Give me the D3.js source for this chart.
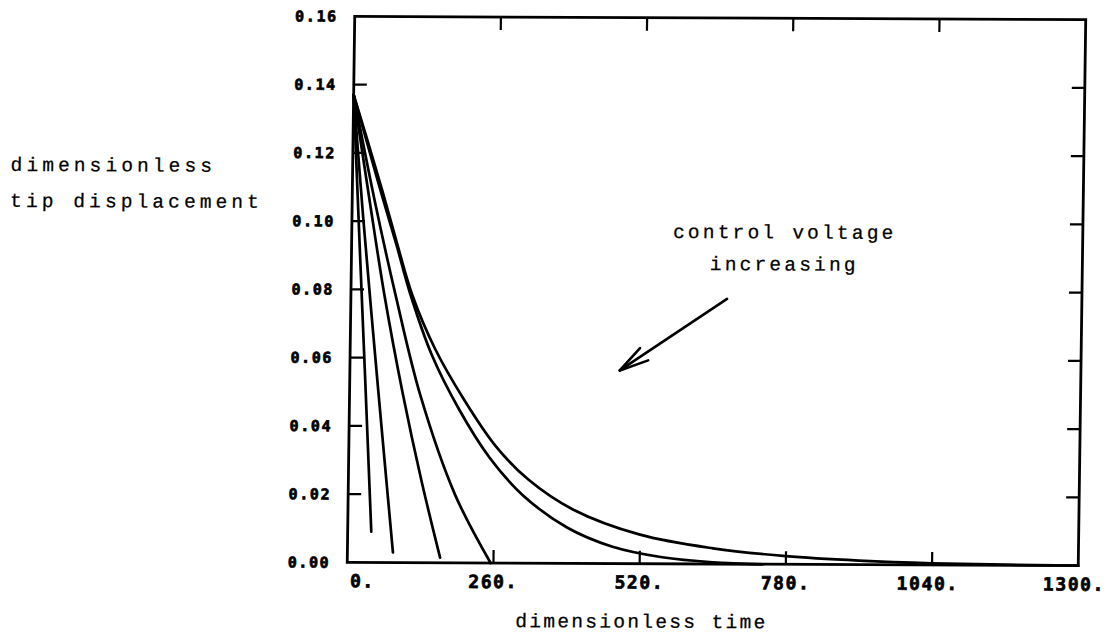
<!DOCTYPE html>
<html>
<head>
<meta charset="utf-8">
<script src="https://cdn.jsdelivr.net/npm/d3@7/dist/d3.min.js"></script>
<style>
  html, body { margin: 0; padding: 0; background: #fff; }
  svg { display: block; }
  .tick-y { font-family: "DejaVu Sans Mono", "Liberation Mono", monospace; font-weight: bold; font-size: 15px; letter-spacing: 1.6px; stroke: #000; stroke-width: 0.7px; }
  .tick-x { font-family: "DejaVu Sans Mono", "Liberation Mono", monospace; font-weight: bold; font-size: 18px; letter-spacing: 1.6px; stroke: #000; stroke-width: 0.7px; }
  .type { font-family: "Liberation Mono", "DejaVu Sans Mono", monospace; font-size: 19.5px; stroke: #000; stroke-width: 0.25px; }
</style>
</head>
<body>
<svg id="chart" width="1113" height="633"></svg>
<script>
// Tip displacement decay curves, one per control voltage (time, displacement)
const curveA = [[0,0.137],[14,0.094],[28,0.052],[42,0.009]];
const curveB = [[0,0.137],[20,0.101],[40,0.068],[60,0.036],[81,0.003]];
const curveC = [[0,0.137],[30,0.107],[60,0.078],[94,0.050],[130,0.024],[165,0.0015]];
const curveD = [[0,0.137],[40,0.106],[80,0.078],[126,0.049],[190,0.020],[255,0]];
const curveE = [[0,0.137],[25,0.123],[52,0.108],[80,0.093],[105,0.079],[145,0.061],[195,0.045],[250,0.031],[310,0.020],[390,0.0105],[470,0.0050],[560,0.0019],[650,0.0005],[740,0]];
const curveF = [[0,0.137],[25,0.124],[55,0.108],[80,0.094],[109,0.0785],[150,0.063],[205,0.0475],[260,0.0345],[320,0.0245],[400,0.0158],[520,0.0085],[650,0.0046],[780,0.0024],[910,0.0012],[1040,0.0005],[1170,0.0002],[1300,0]];
const curves = [curveA, curveB, curveC, curveD, curveE, curveF];

// Axis ticks and labels
const xTicks = [0, 260, 520, 780, 1040, 1300];
const xTickLabels = ["0.", "260.", "520.", "780.", "1040.", "1300."];
const yTicks = [0, 0.02, 0.04, 0.06, 0.08, 0.10, 0.12, 0.14, 0.16];
const yTickLabels = ["0.00", "0.02", "0.04", "0.06", "0.08", "0.10", "0.12", "0.14", "0.16"];

// Titles and annotation
const xTitle = "dimensionless time";
const yTitleLines = ["dimensionless", "tip displacement"];
const noteLines = ["control voltage", "increasing"];
const noteArrow = [[669, 0.0777], [480, 0.0566]];   // tail, head (data units)

const plotLeft = 351, plotRight = 1082, plotTop = 18, plotBottom = 564;
const x = d3.scaleLinear().domain([0, 1300]).range([plotLeft, plotRight]);
const y = d3.scaleLinear().domain([0, 0.16]).range([plotBottom, plotTop]);

const svg = d3.select("#chart");
// slight skew of the whole plotted sheet
const cx = 716, cy = 290;
const g = svg.append("g")
  .attr("transform", `translate(${cx},${cy}) matrix(1,0.0045,-0.0137,1,0,0) translate(${-cx},${-cy})`);

const ink = "#000";
const tickLen = 13;

// frame
g.append("rect")
  .attr("x", plotLeft).attr("y", plotTop)
  .attr("width", plotRight - plotLeft).attr("height", plotBottom - plotTop)
  .attr("fill", "none").attr("stroke", ink).attr("stroke-width", 2.8);

// y ticks on both sides
g.selectAll(".ytl").data(yTicks.slice(1, -1)).join("line")
  .attr("x1", plotLeft).attr("x2", plotLeft + tickLen)
  .attr("y1", d => y(d)).attr("y2", d => y(d))
  .attr("stroke", ink).attr("stroke-width", 2.4);
g.selectAll(".ytr").data(yTicks.slice(1, -1)).join("line")
  .attr("x1", plotRight).attr("x2", plotRight - tickLen)
  .attr("y1", d => y(d)).attr("y2", d => y(d))
  .attr("stroke", ink).attr("stroke-width", 2.4);

// x ticks top and bottom
const innerX = xTicks.slice(1, -1);
g.selectAll(".xtb").data(innerX).join("line")
  .attr("x1", d => x(d)).attr("x2", d => x(d))
  .attr("y1", plotBottom).attr("y2", plotBottom - tickLen)
  .attr("stroke", ink).attr("stroke-width", 2.2);
g.selectAll(".xtt").data(innerX).join("line")
  .attr("x1", d => x(d)).attr("x2", d => x(d))
  .attr("y1", plotTop).attr("y2", plotTop + tickLen)
  .attr("stroke", ink).attr("stroke-width", 2.2);

// tick labels
g.selectAll(".tick-y").data(yTicks).join("text")
  .attr("class", "tick-y")
  .attr("x", plotLeft - 17)
  .attr("y", d => y(d))
  .attr("dy", "0.36em")
  .attr("text-anchor", "end")
  .attr("fill", ink)
  .text((d, i) => yTickLabels[i]);

g.selectAll(".tick-x").data(xTicks).join("text")
  .attr("class", "tick-x")
  .attr("x", (d, i) => i === 0 ? x(d) + 3 : x(d) - (d >= 1040 ? 4 : 0))
  .attr("y", plotBottom + 25)
  .attr("text-anchor", (d, i) => i === 0 ? "start" : "middle")
  .attr("fill", ink)
  .text((d, i) => xTickLabels[i]);

// decay curves
const line = d3.line()
  .x(d => x(d[0]))
  .y(d => y(d[1]))
  .curve(d3.curveCatmullRom.alpha(0.5));

g.selectAll(".curve").data(curves).join("path")
  .attr("class", "curve")
  .attr("d", line)
  .attr("fill", "none")
  .attr("stroke", ink)
  .attr("stroke-width", 2.7)
  .attr("stroke-linecap", "round")
  .attr("stroke-linejoin", "round");

// axis titles
g.append("text").attr("class", "type")
  .attr("x", 520).attr("y", 628)
  .style("letter-spacing", "2.3px")
  .attr("fill", ink)
  .text(xTitle);

g.selectAll(".ytitle").data(yTitleLines).join("text")
  .attr("class", "type")
  .attr("x", 9)
  .attr("y", (d, i) => 174 + i * 36)
  .style("letter-spacing", "4.1px")
  .attr("fill", ink)
  .text(d => d);

// annotation text
g.selectAll(".note").data(noteLines).join("text")
  .attr("class", "type")
  .attr("x", x(770))
  .attr("y", (d, i) => y(0.0955) + i * 32)
  .attr("text-anchor", "middle")
  .style("letter-spacing", "3.2px")
  .attr("fill", ink)
  .text(d => d);

// annotation arrow
const [tail, head] = noteArrow.map(p => [x(p[0]), y(p[1])]);
g.append("line")
  .attr("x1", tail[0]).attr("y1", tail[1])
  .attr("x2", head[0]).attr("y2", head[1])
  .attr("stroke", ink).attr("stroke-width", 2.6).attr("stroke-linecap", "round");
const ang = Math.atan2(tail[1] - head[1], tail[0] - head[0]);
[-0.25, 0.25].forEach(da => {
  g.append("line")
    .attr("x1", head[0]).attr("y1", head[1])
    .attr("x2", head[0] + 30 * Math.cos(ang + da))
    .attr("y2", head[1] + 30 * Math.sin(ang + da))
    .attr("stroke", ink).attr("stroke-width", 2.6).attr("stroke-linecap", "round");
});
</script>
</body>
</html>
